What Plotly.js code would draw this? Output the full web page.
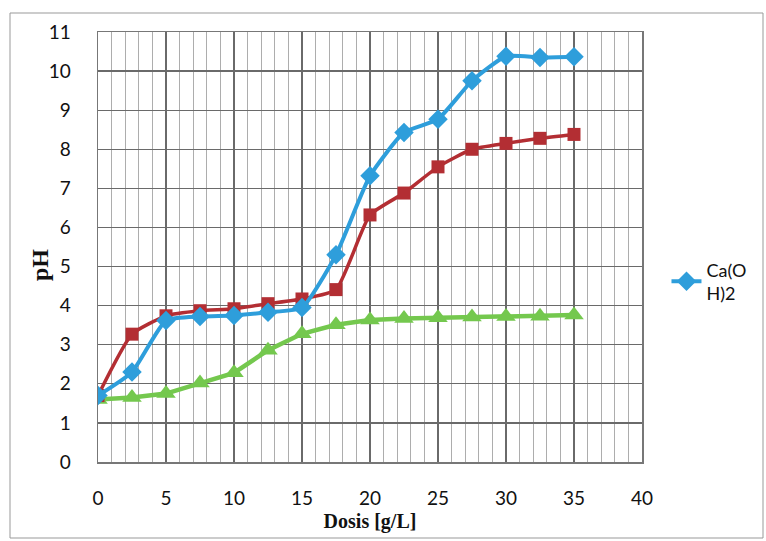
<!DOCTYPE html>
<html>
<head>
<meta charset="utf-8">
<script src="https://cdn.plot.ly/plotly-3.0.1.min.js"></script>
<style>
  html, body { margin: 0; padding: 0; background: #fff; }
  #chart { width: 766px; height: 541px; }
</style>
</head>
<body>
<div id="chart"></div>
<script>
// Data
const dosis = [0, 2.5, 5, 7.5, 10, 12.5, 15, 17.5, 20, 22.5, 25, 27.5, 30, 32.5, 35];
const caOH2 = [1.7, 2.3, 3.62, 3.72, 3.75, 3.83, 3.95, 5.3, 7.32, 8.43, 8.77, 9.75, 10.38, 10.35, 10.37];
const seriesRed = [1.7, 3.27, 3.74, 3.87, 3.92, 4.05, 4.17, 4.41, 6.32, 6.88, 7.55, 8.0, 8.15, 8.28, 8.38];
const seriesGreen = [1.6, 1.65, 1.75, 2.02, 2.28, 2.86, 3.28, 3.51, 3.63, 3.67, 3.69, 3.71, 3.72, 3.73, 3.76];
const legendName = 'Ca(O<br>H)2';
const xTickVals = [0, 5, 10, 15, 20, 25, 30, 35, 40];
const yTickVals = [0, 1, 2, 3, 4, 5, 6, 7, 8, 9, 10, 11];

const traces = [
  {
    x: dosis, y: seriesGreen, type: 'scatter', mode: 'lines+markers',
    line: {color: '#74C84E', width: 4.5},
    marker: {symbol: 'triangle-up', size: 17, color: '#74C84E'},
    showlegend: false
  },
  {
    x: dosis, y: seriesRed, type: 'scatter', mode: 'lines+markers',
    line: {color: '#B32E33', width: 3.5, shape: 'spline', smoothing: 0.5},
    marker: {symbol: 'square', size: 13, color: '#B32E33'},
    showlegend: false
  },
  {
    x: dosis, y: caOH2, type: 'scatter', mode: 'lines+markers', name: legendName,
    line: {color: '#2E9EDB', width: 4, shape: 'spline', smoothing: 0.5},
    marker: {symbol: 'diamond', size: 15, color: '#2E9EDB'}
  }
];

const layout = {
  width: 766, height: 541,
  margin: {l: 98, r: 124, t: 32, b: 79},
  paper_bgcolor: '#fff', plot_bgcolor: '#fff',
  font: {family: 'Lato, "Open Sans", sans-serif', size: 19, color: '#111'},
  xaxis: {
    range: [0, 40], tickvals: xTickVals, ticks: '', ticklabelstandoff: 19,
    showgrid: true, gridcolor: '#6a6a6a', gridwidth: 1.2,
    minor: {dtick: 1, showgrid: true, gridcolor: '#adadad', gridwidth: 1},
    showline: true, linecolor: '#777', linewidth: 1.5, mirror: true, zeroline: false,
    tickfont: {family: 'Lato, sans-serif', size: 19, color: '#111'},
    title: {text: 'Dosis [g/L]', standoff: 5,
      font: {family: '"Liberation Serif", "Times New Roman", serif', size: 20, color: '#111', weight: 'bold'}}
  },
  yaxis: {
    range: [0, 11], tickvals: yTickVals, ticks: '', ticklabelstandoff: 22,
    showgrid: true, gridcolor: '#6a6a6a', gridwidth: 1.2,
    showline: true, linecolor: '#777', linewidth: 1.5, mirror: true, zeroline: false,
    tickfont: {family: 'Lato, sans-serif', size: 19, color: '#111'}
  },
  legend: {
    x: 1.045, xanchor: 'left', y: 0.42, yanchor: 'middle',
    font: {family: 'Lato, sans-serif', size: 18, color: '#111'},
    bgcolor: 'rgba(0,0,0,0)', borderwidth: 0, itemwidth: 30
  },
  annotations: [{
    text: '<b>pH</b>', xref: 'paper', yref: 'paper',
    x: (40 - 98) / 544, y: (462 - 265) / 430, xanchor: 'center', yanchor: 'middle',
    textangle: -90, showarrow: false,
    font: {family: '"Liberation Serif", "Times New Roman", serif', size: 24, color: '#111'}
  }],
  shapes: [{
    type: 'rect', xref: 'paper', yref: 'paper',
    x0: (10 - 98) / 544, x1: (763 - 98) / 544,
    y0: (462 - 538) / 430, y1: (462 - 13) / 430,
    line: {color: '#999', width: 1}, fillcolor: 'rgba(0,0,0,0)', layer: 'below'
  }]
};

Plotly.newPlot('chart', traces, layout, {staticPlot: true, displayModeBar: false});
</script>
</body>
</html>
